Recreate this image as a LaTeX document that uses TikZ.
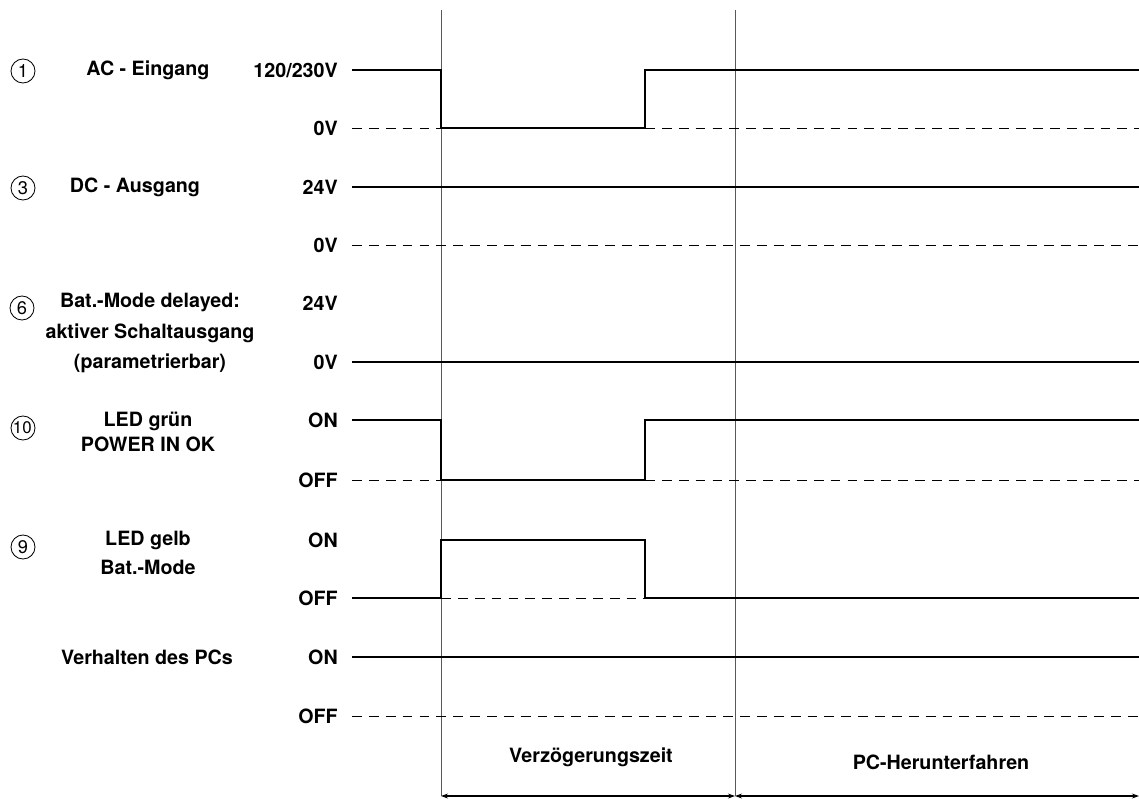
\documentclass[tikz,border=0pt]{standalone}
\usepackage{fontspec}
\setmainfont{TeX Gyre Heros}
\usetikzlibrary{arrows.meta}

\begin{document}
\begin{tikzpicture}[x=0.025cm, y=-0.025cm,
	sig/.style={line width=1.9pt, line join=miter},
	nulllinie/.style={dash pattern=on 7pt off 5pt, line width=0.7pt},
	zeitlinie/.style={gray!70!black, line width=0.7pt},
	lbl/.style={font=\bfseries\fontsize{14}{17}\selectfont, align=center, inner sep=0pt},
	pegel/.style={font=\bfseries\fontsize{14}{17}\selectfont, anchor=east, inner sep=0pt},
	nr/.style={draw, circle, line width=0.6pt, inner sep=0pt, minimum size=0.6cm, font=\fontsize{13}{13}\selectfont}]
	\useasboundingbox (0,0) rectangle (1139,798); % Rand um Grafik
	
	% Zeitmarken
	\coordinate (t0o) at (441,10);
	\coordinate (t0u) at (441,796);
	\coordinate (t1o) at (735,10);
	\coordinate (t1u) at (735,796);
	\coordinate (ende) at (1139,796);
	\draw[zeitlinie] (t0o) -- (t0u);
	\draw[zeitlinie] (t1o) -- (t1u);
	
	% Beschriftung links
	\node[nr] (n1) at (23,71) {1};
	\node[nr] (n3) at (23,188) {3};
	\node[nr] (n6) at (22,308) {6};
	\node[nr, font=\fontsize{12}{12}\selectfont] (n10) at (23,428) {\hspace{-1pt}10\hspace{-1pt}};
	\node[nr] (n9) at (23,547) {9};
	
	\node[lbl] (ac) at (148,70) {AC - Eingang};
	\node[lbl] (dc) at (135,187) {DC - Ausgang};
	\node[lbl, font=\bfseries\fontsize{14}{21.5}\selectfont] (bat) at (150,333) {Bat.-Mode delayed:\\aktiver Schaltausgang\\(parametrierbar)};
	\node[lbl, font=\bfseries\fontsize{14}{17.5}\selectfont] (gruen) at (148,432) {LED grün\\POWER IN OK};
	\node[lbl, font=\bfseries\fontsize{14}{21}\selectfont] (gelb) at (148,553) {LED gelb\\Bat.-Mode};
	\node[lbl] (pc) at (147,657) {Verhalten des PCs};
	
	% Pegel
	\node[pegel] (ac1) at (338,70) {120/230V};
	\node[pegel] (ac0) at (338,128) {0V};
	\node[pegel] (dc1) at (338,187) {24V};
	\node[pegel] (dc0) at (338,245) {0V};
	\node[pegel] (bat1) at (338,303) {24V};
	\node[pegel] (bat0) at (338,362) {0V};
	\node[pegel] (gruen1) at (338,420) {ON};
	\node[pegel] (gruen0) at (338,480) {OFF};
	\node[pegel] (gelb1) at (338,540) {ON};
	\node[pegel] (gelb0) at (338,598) {OFF};
	\node[pegel] (pc1) at (338,657) {ON};
	\node[pegel] (pc0) at (338,716) {OFF};
	
	% Signale
	\draw[nulllinie] (352,128) -- (441,128);
	\draw[nulllinie] (645,128) -- (1139,128);
	\draw[sig] (352,70) -- (441,70) -- (441,128) -- (645,128) -- (645,70) -- (1139,70);
	
	\draw[sig] (352,187) -- (1139,187);
	\draw[nulllinie] (352,245) -- (1139,245);
	
	\draw[sig] (352,362) -- (1139,362);
	
	\draw[nulllinie] (352,480) -- (441,480);
	\draw[nulllinie] (645,480) -- (1139,480);
	\draw[sig] (352,420) -- (441,420) -- (441,480) -- (645,480) -- (645,420) -- (1139,420);
	
	\draw[nulllinie] (441,598) -- (645,598);
	\draw[sig] (352,598) -- (441,598) -- (441,540) -- (645,540) -- (645,598) -- (1139,598);
	
	\draw[sig] (352,657) -- (1139,657);
	\draw[nulllinie] (352,716) -- (1139,716);
	
	% Zeitabschnitte
	\node[lbl] (verz) at (591,757) {Verzögerungszeit};
	\node[lbl] (herunter) at (941,762) {PC-Herunterfahren};
	\draw[{Stealth[length=5pt,width=3.5pt]}-{Stealth[length=5pt,width=3.5pt]}, line width=0.8pt] (t0u) -- (t1u);
	\draw[{Stealth[length=5pt,width=3.5pt]}-{Stealth[length=5pt,width=3.5pt]}, line width=0.8pt] (t1u) -- (ende);
\end{tikzpicture}
\end{document}
